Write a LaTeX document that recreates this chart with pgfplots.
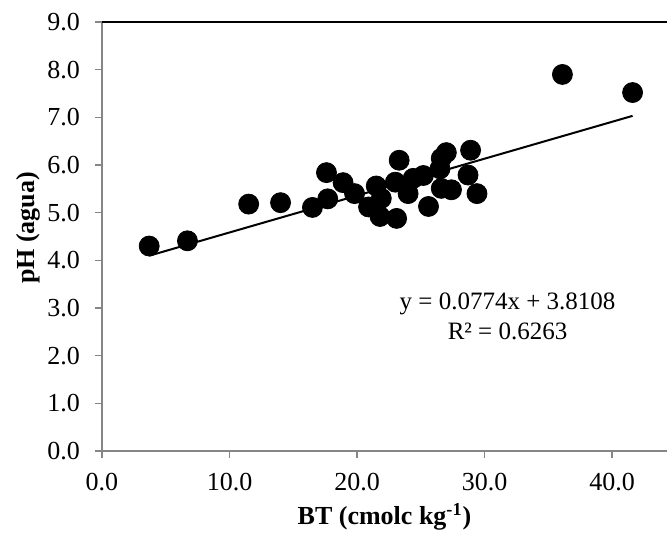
\documentclass[border=0pt]{standalone}
\usepackage{fontspec}
\setmainfont{Liberation Serif}
\usepackage{pgfplots}
\pgfplotsset{compat=1.18}

\definecolor{axisgray}{RGB}{134,134,134}

\begin{document}
\begin{tikzpicture}
% page size = reference crop (667x536 px at 0.5pt/px)
\path[use as bounding box] (-51pt,-42.5pt) rectangle (282.5pt,225.5pt);
\begin{axis}[
    at={(0,0)}, anchor=south west,
    scale only axis,
    width=282.5pt, height=214.5pt,
    xmin=0, xmax=44.3, ymin=0, ymax=9,
    xtick={0,10,20,30,40},
    ytick={0,1,2,3,4,5,6,7,8,9},
    tick align=outside, tick pos=left,
    major tick length=3.5pt,
    tick style={axisgray, line width=0.8pt},
    axis line style={draw=none},
    xticklabel style={yshift=-4pt},
    yticklabel style={xshift=-4pt},
    /pgf/number format/.cd, fixed, fixed zerofill, precision=1,
        assume math mode=true,
    /pgfplots/.cd,
    ticklabel style={font=\fontsize{13}{15}\selectfont},
    xlabel={\textbf{BT (cmolc kg\textsuperscript{-1})}},
    ylabel={\textbf{pH (agua)}},
    xlabel style={font=\fontsize{13}{15}\selectfont, at={(axis description cs:0.5,0)}, anchor=center, yshift=-33pt},
    ylabel style={font=\fontsize{13}{15}\selectfont, at={(axis description cs:-0.131,0.52)}, anchor=center},
    clip=false,
]
% frame: grey axes on left and bottom, black line on top
\draw[axisgray, line width=1.2pt] (rel axis cs:0,1) -- (rel axis cs:0,0) -- (rel axis cs:1,0);
\draw[black, line width=1pt] (rel axis cs:0,1) -- (rel axis cs:1,1);

% linear trend y = 0.0774x + 3.8108
\addplot[black, line width=1pt, no marks] coordinates {(3.7,4.097)(41.6,7.031)};

% observations
\addplot[only marks, mark=*, mark size=5pt, black] coordinates {
    (3.7,4.30)(6.7,4.41)(11.5,5.18)(14.0,5.21)(16.5,5.11)
    (17.6,5.84)(17.7,5.29)(18.9,5.63)(19.8,5.40)(20.9,5.12)
    (21.5,5.56)(21.9,5.30)(21.8,4.92)(23.1,4.88)(23.0,5.64)
    (23.3,6.10)(24.0,5.40)(24.4,5.72)(25.2,5.78)(25.6,5.13)
    (26.6,6.14)(26.5,5.92)(27.0,6.26)(26.6,5.51)(27.4,5.48)
    (28.7,5.79)(28.9,6.31)(29.4,5.40)(36.1,7.90)(41.6,7.52)
};

\node[align=center, font=\fontsize{12.5}{15}\selectfont] at (axis cs:31.8,2.83)
    {y = 0.0774x + 3.8108\\R² = 0.6263};
\end{axis}
\end{tikzpicture}
\end{document}
